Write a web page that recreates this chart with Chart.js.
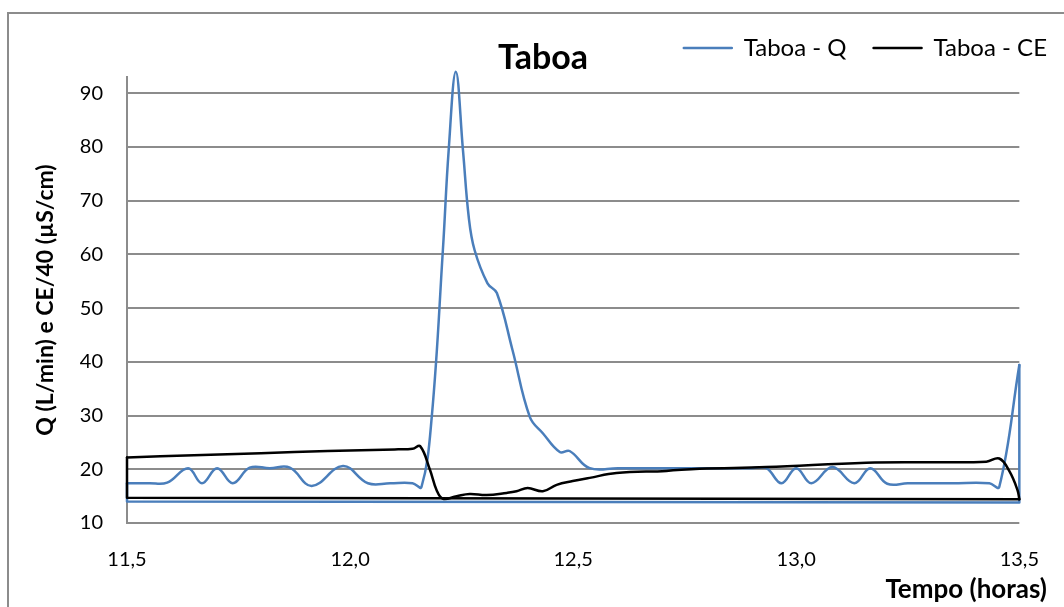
<!DOCTYPE html>
<html>
<head>
<meta charset="utf-8">
<script src="https://cdn.jsdelivr.net/npm/chart.js@4.4.1/dist/chart.umd.min.js"></script>
<style>
  html, body { margin: 0; padding: 0; background: #fff; }
  canvas { display: block; }
</style>
</head>
<body>
<canvas id="chart" width="1064" height="607"></canvas>
<script>
// Series names
const seriesNames = ['Taboa - Q', 'Taboa - CE'];

// Flow Q (L/min) against time (hours)
const timeQ = [11.50, 11.55, 11.59, 11.637, 11.668, 11.702, 11.737, 11.775, 11.82, 11.865,
  11.914, 11.984, 12.04, 12.09, 12.14, 12.16, 12.183, 12.208, 12.221, 12.237,
  12.253, 12.266, 12.279, 12.308, 12.329, 12.364, 12.403, 12.432, 12.47, 12.492,
  12.537, 12.60, 12.70, 12.80, 12.90, 12.933, 12.967, 13.00, 13.034, 13.081,
  13.13, 13.166, 13.204, 13.25, 13.35, 13.433, 13.455, 13.50];
const flowQ = [17.4, 17.4, 17.5, 20.2, 17.4, 20.2, 17.4, 20.3, 20.2, 20.3,
  16.9, 20.6, 17.4, 17.4, 17.4, 16.7, 29.7, 60.8, 79.4, 94.0,
  79.4, 66.9, 60.8, 54.6, 52.8, 42.2, 29.7, 26.7, 23.2, 23.4,
  20.2, 20.2, 20.2, 20.2, 20.2, 20.2, 17.4, 20.2, 17.4, 20.4,
  17.4, 20.2, 17.3, 17.4, 17.4, 17.4, 16.7, 39.4];
// closing run of the Q record back to the start time
const returnTimeQ = [13.50, 13.50, 11.50, 11.50];
const returnQ = [39.4, 13.8, 14.0, 17.4];

// Electrical conductivity CE/40 (µS/cm) against time (hours)
const timeCE = [11.50, 11.65, 11.80, 11.95, 12.10, 12.14, 12.157, 12.179, 12.194, 12.208,
  12.239, 12.268, 12.306, 12.351, 12.373, 12.398, 12.432, 12.463, 12.499, 12.537,
  12.597, 12.709, 12.783, 12.933, 13.157, 13.30, 13.426, 13.455, 13.478, 13.496, 13.50];
const condCE = [22.2, 22.6, 23.0, 23.4, 23.7, 23.8, 24.3, 19.9, 16.1, 14.5,
  15.0, 15.4, 15.2, 15.6, 15.9, 16.5, 15.9, 17.1, 17.8, 18.4,
  19.3, 19.7, 20.1, 20.4, 21.2, 21.3, 21.4, 22.0, 19.6, 16.1, 14.4];
const returnTimeCE = [13.50, 11.50, 11.50];
const returnCE = [14.4, 14.7, 22.2];

// Axis ticks
const xTickValues = [11.5, 12.0, 12.5, 13.0, 13.5];
const xTickLabels = ['11,5', '12,0', '12,5', '13,0', '13,5'];
const yTickValues = [10, 20, 30, 40, 50, 60, 70, 80, 90];

const BLUE = '#4a7ebb';
const BLACK = '#000000';
const GRID = '#8c8c8c';
const FONT = 'Lato';

const pts = (xs, ys) => xs.map((x, i) => ({ x, y: ys[i] }));

// white page plus the outer chart frame
const framePlugin = {
  id: 'frame',
  beforeDraw(chart) {
    const ctx = chart.ctx;
    ctx.save();
    ctx.fillStyle = '#ffffff';
    ctx.fillRect(0, 0, chart.width, chart.height);
    ctx.strokeStyle = GRID;
    ctx.lineWidth = 2;
    ctx.beginPath();
    ctx.moveTo(8, chart.height + 5);
    ctx.lineTo(8, 13);
    ctx.lineTo(chart.width + 5, 13);
    ctx.stroke();
    ctx.restore();
  }
};

// title and legend share one row above the plot; axis title runs past the plot edge
const placementPlugin = {
  id: 'placement',
  afterLayout(chart) {
    const t = chart.titleBlock;
    if (t) {
      t.top = 50; t.bottom = t.top + t.height;
      t.left = 66; t.right = 1020;
    }
    const lg = chart.legend;
    if (lg) {
      lg.top = 9; lg.bottom = lg.top + lg.height;
      lg.right = 1074;
    }
    const xs = chart.scales.x;
    if (xs) xs.right = 1047;
  }
};

new Chart(document.getElementById('chart'), {
  type: 'line',
  data: {
    datasets: [
      { label: seriesNames[0], data: pts(timeQ, flowQ), borderColor: BLUE, backgroundColor: BLUE,
        borderWidth: 2.5, pointRadius: 0, tension: 0.4, order: 4, clip: false, fill: false },
      { label: seriesNames[1], data: pts(timeCE, condCE), borderColor: BLACK, backgroundColor: BLACK,
        borderWidth: 2.5, pointRadius: 0, tension: 0.4, order: 1, clip: false, fill: false },
      { label: seriesNames[0], data: pts(returnTimeQ, returnQ), borderColor: BLUE, backgroundColor: BLUE,
        borderWidth: 2.5, pointRadius: 0, tension: 0, order: 3, clip: false, fill: false },
      { label: seriesNames[1], data: pts(returnTimeCE, returnCE), borderColor: BLACK, backgroundColor: BLACK,
        borderWidth: 2.5, pointRadius: 0, tension: 0, order: 2, clip: false, fill: false }
    ]
  },
  options: {
    responsive: false,
    animation: false,
    events: [],
    elements: { line: { capBezierPoints: false, borderJoinStyle: 'round', borderCapStyle: 'round' } },
    layout: { padding: { left: 0, right: 44, top: 0, bottom: 0 } },
    plugins: {
      tooltip: { enabled: false },
      title: {
        display: true,
        text: 'Taboa',
        color: '#000',
        font: { family: FONT, size: 34, weight: 'bold', lineHeight: 16 / 34 },
        padding: 0
      },
      legend: {
        display: true,
        position: 'top',
        align: 'end',
        labels: {
          color: '#000',
          font: { family: FONT, size: 24 },
          boxWidth: 48,
          boxHeight: 0,
          padding: 27,
          filter: (item) => item.datasetIndex < 2,
          sort: (a, b) => a.datasetIndex - b.datasetIndex
        }
      }
    },
    scales: {
      x: {
        type: 'linear',
        min: 11.5,
        max: 13.5,
        afterBuildTicks: (s) => { s.ticks = xTickValues.map(v => ({ value: v })); },
        afterFit: (s) => { s.height = 84; },
        grid: { display: false, drawTicks: false },
        border: { display: false },
        ticks: {
          padding: 25,
          color: '#000',
          font: { family: FONT, size: 20 },
          maxRotation: 0,
          callback: (v) => xTickLabels[xTickValues.indexOf(v)]
        },
        title: {
          display: true,
          text: 'Tempo (horas)',
          align: 'end',
          color: '#000',
          font: { family: FONT, size: 26, weight: 'bold' },
          padding: { top: 0, bottom: 2 }
        }
      },
      y: {
        type: 'linear',
        min: 10,
        max: 93,
        afterBuildTicks: (s) => { s.ticks = yTickValues.map(v => ({ value: v })); },
        afterFit: (s) => { s.width = 127; },
        grid: { color: GRID, lineWidth: 2, drawTicks: false },
        border: { display: true, color: GRID, width: 2 },
        ticks: {
          padding: 24,
          color: '#000',
          font: { family: FONT, size: 20 },
          callback: (v) => String(v)
        },
        title: {
          display: true,
          text: 'Q (L/min) e CE/40 (µS/cm)',
          color: '#000',
          font: { family: FONT, size: 23, weight: 'bold' },
          padding: { top: 32, bottom: 0 }
        }
      }
    }
  },
  plugins: [framePlugin, placementPlugin]
});
</script>
</body>
</html>
